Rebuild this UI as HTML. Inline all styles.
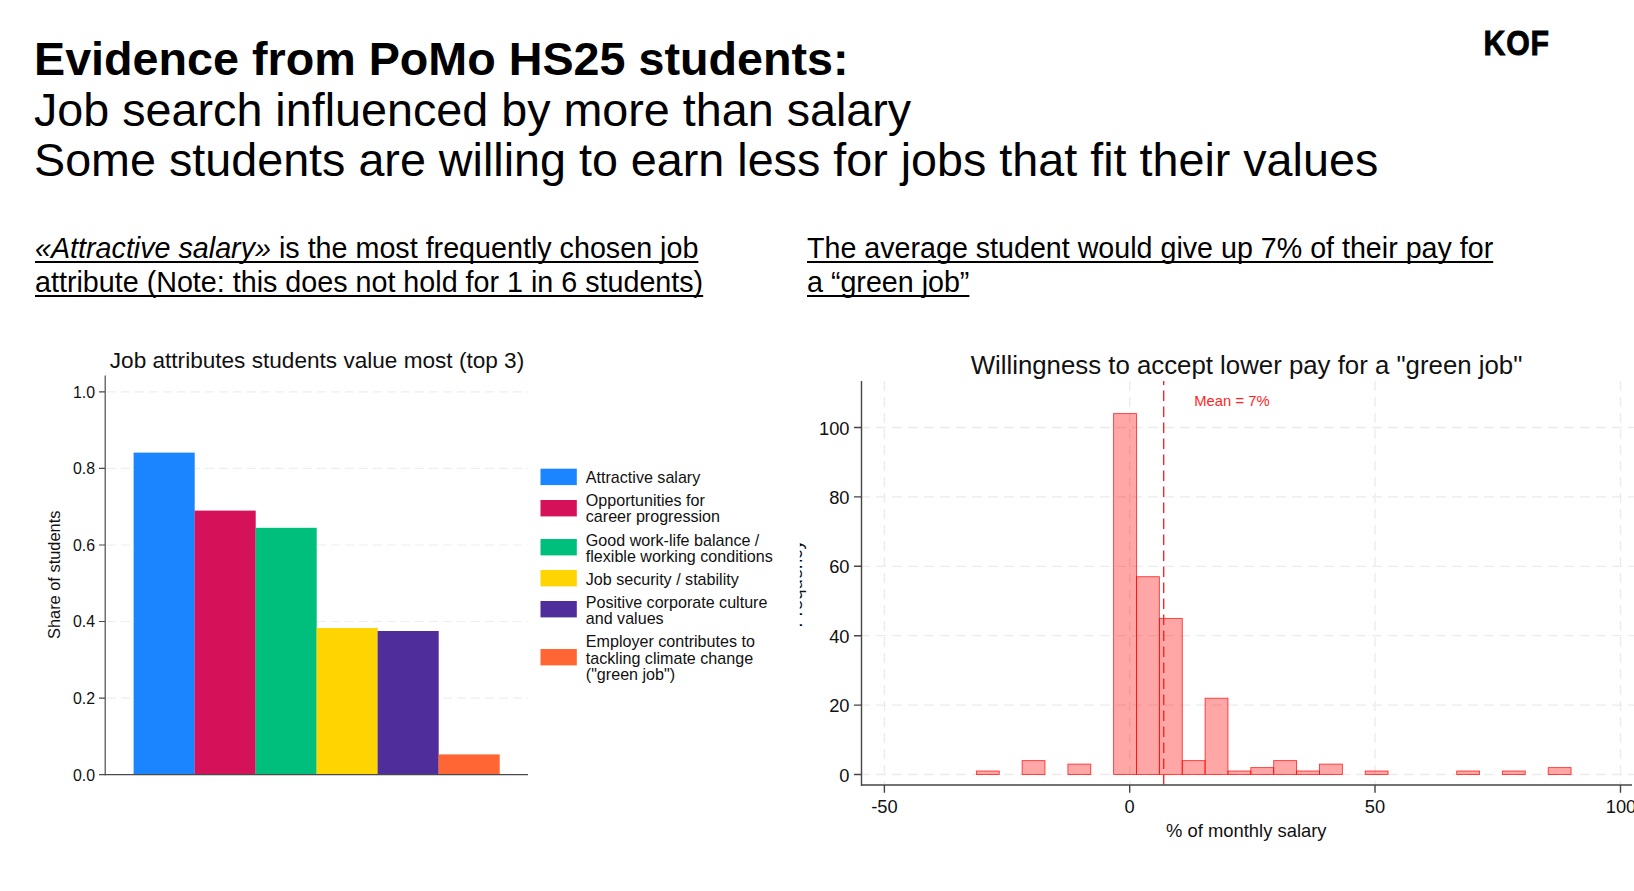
<!DOCTYPE html>
<html lang="en">
<head>
<meta charset="utf-8">
<title>Evidence from PoMo HS25 students</title>
<style>
html,body{margin:0;padding:0;background:#fff;}
body{width:1634px;height:891px;position:relative;overflow:hidden;font-family:"Liberation Sans",sans-serif;color:#000;}
.abs{position:absolute;white-space:nowrap;}
.title{left:34px;top:34px;font-size:46.7px;line-height:50.5px;}
.title b{font-weight:bold;}
.sub{font-size:28.7px;line-height:33.5px;text-decoration:underline;text-decoration-thickness:2px;text-underline-offset:3px;text-decoration-skip-ink:none;}
#sub1{left:35px;top:232px;}
#sub2{left:807px;top:232px;font-size:28.65px;}
svg{position:absolute;left:0;top:0;}
svg text{font-family:"Liberation Sans",sans-serif;}
</style>
</head>
<body>
<div class="abs title"><b>Evidence from PoMo HS25 students:</b><br>Job search influenced by more than salary<br>Some students are willing to earn less for jobs that fit their values</div>
<div class="abs sub" id="sub1"><i>«Attractive salary»</i> is the most frequently chosen job<br>attribute (Note: this does not hold for 1 in 6 students)</div>
<div class="abs sub" id="sub2">The average student would give up 7% of their pay for<br>a “green job”</div>

<svg width="1634" height="891" viewBox="0 0 1634 891">
<!-- KOF logo -->
<text transform="translate(1483.4 54.7) scale(0.845 1)" font-weight="bold" font-size="35.8" fill="#000" stroke="#000" stroke-width="0.9" letter-spacing="1.1">KOF</text>

<!-- LEFT CHART -->
<g id="left">
<text x="317" y="368" font-size="22.6" text-anchor="middle" fill="#111">Job attributes students value most (top 3)</text>
<g stroke="#eeeeee" stroke-width="1.2" stroke-dasharray="9 5" fill="none">
<line x1="107" y1="698.1" x2="528" y2="698.1"/>
<line x1="107" y1="621.5" x2="528" y2="621.5"/>
<line x1="107" y1="545.0" x2="528" y2="545.0"/>
<line x1="107" y1="468.4" x2="528" y2="468.4"/>
<line x1="107" y1="391.9" x2="528" y2="391.9"/>
</g>
<rect x="133.6" y="452.6" width="61.1" height="322.0" fill="#1a85ff"/>
<rect x="194.6" y="510.6" width="61.1" height="264.0" fill="#d41159"/>
<rect x="255.6" y="527.8" width="61.1" height="246.8" fill="#00bf7d"/>
<rect x="316.6" y="628" width="61.1" height="146.6" fill="#ffd400"/>
<rect x="377.6" y="631" width="61.1" height="143.6" fill="#4f2d9b"/>
<rect x="438.6" y="754.4" width="61.1" height="20.2" fill="#ff6633"/>
<g stroke="#4a4a4a" stroke-width="1.2" fill="none">
<line x1="105.2" y1="375.5" x2="105.2" y2="775.2"/>
<line x1="104.6" y1="774.6" x2="528" y2="774.6"/>
<path d="M99 774.6h6M99 698.1h6M99 621.5h6M99 545.0h6M99 468.4h6M99 391.9h6"/>
</g>
<g font-size="15.9" text-anchor="end" fill="#111">
<text x="95" y="780.5">0.0</text>
<text x="95" y="704.0">0.2</text>
<text x="95" y="627.4">0.4</text>
<text x="95" y="550.9">0.6</text>
<text x="95" y="474.3">0.8</text>
<text x="95" y="397.8">1.0</text>
</g>
<text transform="translate(60 574.8) rotate(-90)" font-size="16.4" text-anchor="middle" fill="#111">Share of students</text>
<rect x="540.5" y="468.7" width="36.3" height="16.4" fill="#1a85ff"/>
<rect x="540.5" y="500" width="36.3" height="16.4" fill="#d41159"/>
<rect x="540.5" y="539" width="36.3" height="16.4" fill="#00bf7d"/>
<rect x="540.5" y="570" width="36.3" height="16.4" fill="#ffd400"/>
<rect x="540.5" y="601" width="36.3" height="16.4" fill="#4f2d9b"/>
<rect x="540.5" y="649" width="36.3" height="16.4" fill="#ff6633"/>
<g font-size="16.1" fill="#111">
<text x="585.8" y="483.2">Attractive salary</text>
<text x="585.8" y="506.2">Opportunities for</text>
<text x="585.8" y="522.2">career progression</text>
<text x="585.8" y="545.5">Good work-life balance /</text>
<text x="585.8" y="561.5">flexible working conditions</text>
<text x="585.8" y="584.6">Job security / stability</text>
<text x="585.8" y="607.8">Positive corporate culture</text>
<text x="585.8" y="623.8">and values</text>
<text x="585.8" y="646.8">Employer contributes to</text>
<text x="585.8" y="663.6">tackling climate change</text>
<text x="585.8" y="679.7">("green job")</text>
</g>
</g>

<!-- RIGHT CHART -->
<g id="right">
<text x="1246.5" y="373.6" font-size="25.8" text-anchor="middle" fill="#111">Willingness to accept lower pay for a "green job"</text>
<g stroke="#ececec" stroke-width="1.3" stroke-dasharray="10 6" fill="none">
<line x1="860" y1="774.5" x2="1634" y2="774.5"/>
<line x1="860" y1="705.1" x2="1634" y2="705.1"/>
<line x1="860" y1="635.7" x2="1634" y2="635.7"/>
<line x1="860" y1="566.3" x2="1634" y2="566.3"/>
<line x1="860" y1="496.9" x2="1634" y2="496.9"/>
<line x1="860" y1="427.5" x2="1634" y2="427.5"/>
<line x1="884.4" y1="381" x2="884.4" y2="784"/>
<line x1="1129.7" y1="381" x2="1129.7" y2="784"/>
<line x1="1375" y1="381" x2="1375" y2="784"/>
<line x1="1620.5" y1="381" x2="1620.5" y2="784"/>
</g>
<g fill="#ff0000" fill-opacity="0.35" stroke="#ff0000" stroke-opacity="0.75" stroke-width="0.9">
<rect x="976.4" y="771.0" width="22.87" height="3.5"/>
<rect x="1022.1" y="760.6" width="22.87" height="13.9"/>
<rect x="1067.9" y="764.1" width="22.87" height="10.4"/>
<rect x="1113.6" y="413.6" width="22.87" height="360.9"/>
<rect x="1136.5" y="576.7" width="22.87" height="197.8"/>
<rect x="1159.4" y="618.4" width="22.87" height="156.2"/>
<rect x="1182.2" y="760.6" width="22.87" height="13.9"/>
<rect x="1205.1" y="698.2" width="22.87" height="76.3"/>
<rect x="1228.0" y="771.0" width="22.87" height="3.5"/>
<rect x="1250.8" y="767.6" width="22.87" height="6.9"/>
<rect x="1273.7" y="760.6" width="22.87" height="13.9"/>
<rect x="1296.6" y="771.0" width="22.87" height="3.5"/>
<rect x="1319.5" y="764.1" width="22.87" height="10.4"/>
<rect x="1365.2" y="771.0" width="22.87" height="3.5"/>
<rect x="1456.7" y="771.0" width="22.87" height="3.5"/>
<rect x="1502.4" y="771.0" width="22.87" height="3.5"/>
<rect x="1548.2" y="767.6" width="22.87" height="6.9"/>
</g>
<line x1="1163.7" y1="381" x2="1163.7" y2="784.5" stroke="#ff2020" stroke-width="1.35" stroke-dasharray="10.5 5.5" stroke-dashoffset="6.5"/>
<text x="1194.3" y="405.7" font-size="14.8" fill="#ff1f1f">Mean = 7%</text>
<g stroke="#444" stroke-width="1.4" fill="none">
<line x1="861.5" y1="381" x2="861.5" y2="785.7"/>
<line x1="861" y1="785" x2="1632" y2="785"/>
<path d="M854 774.5h7.5M854 705.1h7.5M854 635.7h7.5M854 566.3h7.5M854 496.9h7.5M854 427.5h7.5M884.4 785v7.7M1129.7 785v7.7M1375 785v7.7M1620.5 785v7.7"/>
</g>
<g font-size="18.3" text-anchor="end" fill="#111">
<text x="849.5" y="781.6">0</text>
<text x="849.5" y="712.2">20</text>
<text x="849.5" y="642.8">40</text>
<text x="849.5" y="573.4">60</text>
<text x="849.5" y="504.0">80</text>
<text x="849.5" y="434.6">100</text>
</g>
<g font-size="18.3" text-anchor="middle" fill="#111">
<text x="884.4" y="813">-50</text>
<text x="1129.7" y="813">0</text>
<text x="1375" y="813">50</text>
<text x="1621" y="813">100</text>
</g>
<text x="1246.3" y="837" font-size="18.4" text-anchor="middle" fill="#111">% of monthly salary</text>
<clipPath id="fq"><rect x="799.8" y="530" width="9" height="110"/></clipPath>
<g clip-path="url(#fq)"><text transform="translate(802.2 583.9) rotate(-90)" font-size="18.5" text-anchor="middle" fill="#111">Frequency</text></g>
</g>
</svg>
</body>
</html>
